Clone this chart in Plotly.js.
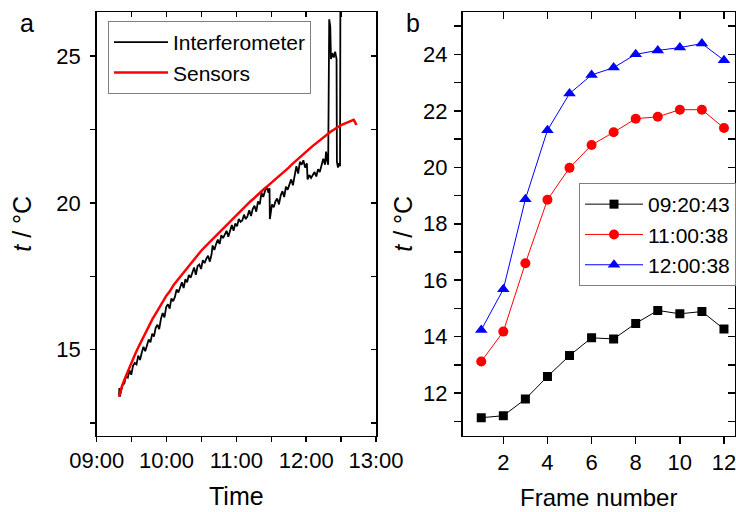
<!DOCTYPE html>
<html>
<head>
<meta charset="utf-8">
<script src="https://cdn.plot.ly/plotly-3.0.1.min.js"></script>
<style>html,body{margin:0;padding:0;background:#fff;}#chart{width:736px;height:512px;}</style>
</head>
<body>
<div id="chart"></div>
<script>
// ---- Panel a: temperature vs time (time in decimal hours) ----
const interfTime = [9.320,9.325,9.330,9.345,9.370,9.395,9.420,9.445,9.470,9.495,9.520,9.545,9.570,9.595,9.620,9.645,9.670,9.695,9.720,9.745,9.770,9.795,9.820,9.845,9.870,9.895,9.920,9.945,9.970,9.995,10.020,10.045,10.070,10.095,10.120,10.145,10.170,10.195,10.220,10.245,10.270,10.295,10.320,10.345,10.370,10.395,10.420,10.445,10.470,10.495,10.520,10.545,10.570,10.595,10.620,10.645,10.660,10.685,10.710,10.735,10.760,10.785,10.810,10.835,10.860,10.885,10.910,10.935,10.960,10.985,11.010,11.035,11.060,11.085,11.110,11.135,11.160,11.185,11.210,11.235,11.260,11.285,11.310,11.335,11.360,11.385,11.410,11.435,11.460,11.475,11.480,11.495,11.510,11.535,11.560,11.585,11.610,11.635,11.660,11.685,11.710,11.735,11.760,11.785,11.810,11.835,11.860,11.885,11.910,11.935,11.960,11.985,12.010,12.020,12.045,12.070,12.095,12.120,12.145,12.170,12.195,12.220,12.245,12.270,12.285,12.300,12.315,12.330,12.345,12.355,12.375,12.395,12.415,12.435,12.440,12.455,12.470,12.485,12.490];
const interfTemp = [13.45,13.70,13.40,13.60,13.80,13.85,14.10,14.05,14.30,14.15,14.45,14.55,14.50,14.80,14.65,14.90,15.10,14.95,15.20,15.35,15.25,15.55,15.45,15.75,15.85,15.70,16.05,16.25,16.10,16.45,16.55,16.40,16.75,16.65,16.80,17.05,16.95,17.10,17.30,17.10,17.40,17.30,17.55,17.45,17.60,17.80,17.55,17.85,17.90,17.75,18.05,17.95,18.10,18.20,18.00,18.25,18.55,18.40,18.60,18.75,18.60,18.90,18.80,18.95,19.05,18.85,19.10,19.25,19.05,19.30,19.20,19.45,19.35,19.40,19.60,19.45,19.55,19.75,19.55,19.80,19.90,19.70,20.05,19.95,20.35,20.20,20.40,20.55,20.35,20.50,19.45,19.65,19.95,19.85,20.05,20.15,19.95,20.25,20.40,20.20,20.55,20.45,20.65,20.80,20.60,20.95,21.25,21.00,21.40,21.30,21.45,21.20,21.35,20.80,20.95,20.85,20.95,21.05,20.90,21.15,21.05,21.25,21.50,21.30,21.75,21.45,21.30,26.25,26.00,24.90,25.10,24.95,25.15,24.90,21.40,21.20,21.35,21.25,27.00];
const sensorTime = [9.32,9.36,9.40,9.45,9.50,9.55,9.60,9.65,9.70,9.75,9.80,9.85,9.90,9.95,10.00,10.05,10.10,10.15,10.20,10.25,10.30,10.35,10.40,10.45,10.50,10.55,10.60,10.65,10.70,10.75,10.80,10.85,10.90,10.95,11.00,11.05,11.10,11.15,11.20,11.25,11.30,11.35,11.40,11.45,11.50,11.55,11.60,11.65,11.70,11.75,11.80,11.85,11.90,11.95,12.00,12.05,12.10,12.15,12.20,12.25,12.30,12.35,12.40,12.45,12.50,12.55,12.60,12.65,12.68,12.70,12.72];
const sensorTemp = [13.40,13.75,14.00,14.30,14.55,14.85,15.10,15.35,15.60,15.85,16.05,16.25,16.45,16.65,16.85,17.00,17.20,17.35,17.50,17.65,17.80,17.95,18.10,18.25,18.38,18.50,18.62,18.75,18.88,19.00,19.12,19.22,19.35,19.45,19.58,19.70,19.82,19.93,20.05,20.15,20.27,20.37,20.48,20.58,20.68,20.78,20.88,20.98,21.08,21.20,21.32,21.43,21.55,21.65,21.75,21.85,21.95,22.05,22.15,22.25,22.35,22.42,22.50,22.58,22.65,22.70,22.76,22.82,22.83,22.75,22.65];
const timeTickVals = [9,10,11,12,13];
const timeTickText = ['09:00','10:00','11:00','12:00','13:00'];
const timeMinorVals = [9.5,10.5,11.5,12.5];

// ---- Panel b: temperature vs frame number ----
const frames = [1,2,3,4,5,6,7,8,9,10,11,12];
const t092043 = [11.13,11.20,11.79,12.59,13.33,13.96,13.92,14.47,14.93,14.81,14.89,14.27];
const t110038 = [13.12,14.18,16.60,18.85,19.98,20.79,21.24,21.72,21.79,22.04,22.04,21.39];
const t120038 = [14.24,15.68,18.87,21.31,22.61,23.27,23.53,24.00,24.14,24.24,24.38,23.79];
const seriesNames = ['09:20:43','11:00:38','12:00:38'];

const FONT = 'Liberation Sans, Arial, sans-serif';

const traces = [
  {x: interfTime, y: interfTemp, name: 'Interferometer', mode: 'lines',
   line: {color: '#000000', width: 1.8}, xaxis: 'x', yaxis: 'y', legend: 'legend'},
  {x: sensorTime, y: sensorTemp, name: 'Sensors', mode: 'lines',
   line: {color: '#ff0000', width: 2.5}, xaxis: 'x3', yaxis: 'y3', legend: 'legend'},
  {x: frames, y: t092043, name: seriesNames[0], mode: 'lines+markers',
   line: {color: '#000000', width: 1}, marker: {symbol: 'square', size: 9, color: '#000000'},
   xaxis: 'x2', yaxis: 'y2', legend: 'legend2'},
  {x: frames, y: t110038, name: seriesNames[1], mode: 'lines+markers',
   line: {color: '#ff0000', width: 1}, marker: {symbol: 'circle', size: 10, color: '#ff0000'},
   xaxis: 'x4', yaxis: 'y4', legend: 'legend2'},
  {x: frames, y: t120038, name: seriesNames[2], mode: 'lines+markers',
   line: {color: '#0000ff', width: 1}, marker: {symbol: 'triangle-up', size: 11, color: '#0000ff'},
   xaxis: 'x4', yaxis: 'y4', legend: 'legend2'}
];

const axBase = {showgrid: false, zeroline: false, showline: true, linecolor: '#000', linewidth: 1.5,
  tickcolor: '#000', tickwidth: 1.5, ticklabeloverflow: 'allow',
  tickfont: {family: FONT, size: 22, color: '#000'}};
const ovBase = {showgrid: false, zeroline: false, showline: false, showticklabels: false,
  ticks: 'inside', tickcolor: '#000', tickwidth: 1.5};

const domA = [96.7/736, 376/736];
const domB = [462.5/736, 735/736];
const domY = [1 - 435.5/512, 1 - 12/512];
const rangeAx = [9, 13], rangeAy = [12.08, 26.5];
const rangeBx = [0.15, 12.5], rangeBy = [10.5, 25.5];

const layout = {
  width: 736, height: 512,
  margin: {l: 0, r: 0, t: 0, b: 0},
  paper_bgcolor: '#fff', plot_bgcolor: '#fff',
  font: {family: FONT, size: 21, color: '#000'},
  showlegend: true,
  xaxis: Object.assign({}, axBase, {domain: domA, anchor: 'y', range: rangeAx, mirror: true,
    tickmode: 'array', tickvals: timeTickVals, ticktext: timeTickText, ticks: 'outside', ticklen: 5,
    minor: {tickmode: 'array', tickvals: timeMinorVals, ticks: 'outside', ticklen: 5, tickwidth: 1.5, tickcolor: '#000', showgrid: false},
    title: {text: 'Time', standoff: 15, font: {family: FONT, size: 25}}}),
  yaxis: Object.assign({}, axBase, {domain: domY, anchor: 'x', range: rangeAy, mirror: true,
    tick0: 0, dtick: 5, ticks: 'outside', ticklen: 5, ticklabelstandoff: 5,
    minor: {tick0: 0, dtick: 2.5, ticks: 'outside', ticklen: 5, tickwidth: 1.5, tickcolor: '#000', showgrid: false},
    title: {text: '<i>t</i> / °C', standoff: 17, font: {family: FONT, size: 25}}}),
  xaxis3: Object.assign({}, ovBase, {overlaying: 'x', side: 'top', anchor: 'y', range: rangeAx,
    tickmode: 'array', tickvals: timeTickVals, ticklen: 5,
    minor: {tickmode: 'array', tickvals: timeMinorVals, ticks: 'inside', ticklen: 5, tickwidth: 1.5, tickcolor: '#000'}}),
  yaxis3: Object.assign({}, ovBase, {overlaying: 'y', side: 'right', anchor: 'x', range: rangeAy,
    tick0: 0, dtick: 5, ticklen: 5,
    minor: {tick0: 0, dtick: 2.5, ticks: 'inside', ticklen: 5, tickwidth: 1.5, tickcolor: '#000'}}),
  xaxis2: Object.assign({}, axBase, {domain: domB, anchor: 'y2', range: rangeBx, mirror: true,
    tick0: 0, dtick: 2, ticks: 'outside', ticklen: 7,
    title: {text: 'Frame number', standoff: 15, font: {family: FONT, size: 24}}}),
  yaxis2: Object.assign({}, axBase, {domain: domY, anchor: 'x2', range: rangeBy, mirror: true,
    tick0: 0, dtick: 2, ticks: 'outside', ticklen: 7, ticklabelstandoff: 2,
    minor: {tick0: 0, dtick: 1, ticks: 'outside', ticklen: 7, tickwidth: 1.5, tickcolor: '#000', showgrid: false},
    title: {text: '<i>t</i> / °C', standoff: 3, font: {family: FONT, size: 25}}}),
  xaxis4: Object.assign({}, ovBase, {overlaying: 'x2', side: 'top', anchor: 'y2', range: rangeBx,
    tick0: 0, dtick: 2, ticklen: 7}),
  yaxis4: Object.assign({}, ovBase, {overlaying: 'y2', side: 'right', anchor: 'x2', range: rangeBy,
    tick0: 0, dtick: 2, ticklen: 7,
    minor: {tick0: 0, dtick: 1, ticks: 'inside', ticklen: 7, tickwidth: 1.5, tickcolor: '#000'}}),
  legend: {x: 108/736, y: 1 - 21/512, xanchor: 'left', yanchor: 'top',
    bordercolor: '#808080', borderwidth: 1, bgcolor: 'rgba(255,255,255,0)',
    font: {family: FONT, size: 21, color: '#000'}, itemwidth: 54, tracegroupgap: 0},
  legend2: {x: 579/736, y: 1 - 183/512, xanchor: 'left', yanchor: 'top',
    bordercolor: '#808080', borderwidth: 1, bgcolor: 'rgba(255,255,255,1)',
    font: {family: FONT, size: 21, color: '#000'}, itemwidth: 58, tracegroupgap: 0},
  annotations: [
    {text: 'a', xref: 'paper', yref: 'paper', x: 27/736, y: 1 - 23/512, showarrow: false,
     xanchor: 'center', yanchor: 'middle', font: {family: FONT, size: 25, color: '#000'}},
    {text: 'b', xref: 'paper', yref: 'paper', x: 413/736, y: 1 - 23/512, showarrow: false,
     xanchor: 'center', yanchor: 'middle', font: {family: FONT, size: 25, color: '#000'}}
  ]
};

Plotly.newPlot('chart', traces, layout, {displayModeBar: false, staticPlot: true});
</script>
</body>
</html>
